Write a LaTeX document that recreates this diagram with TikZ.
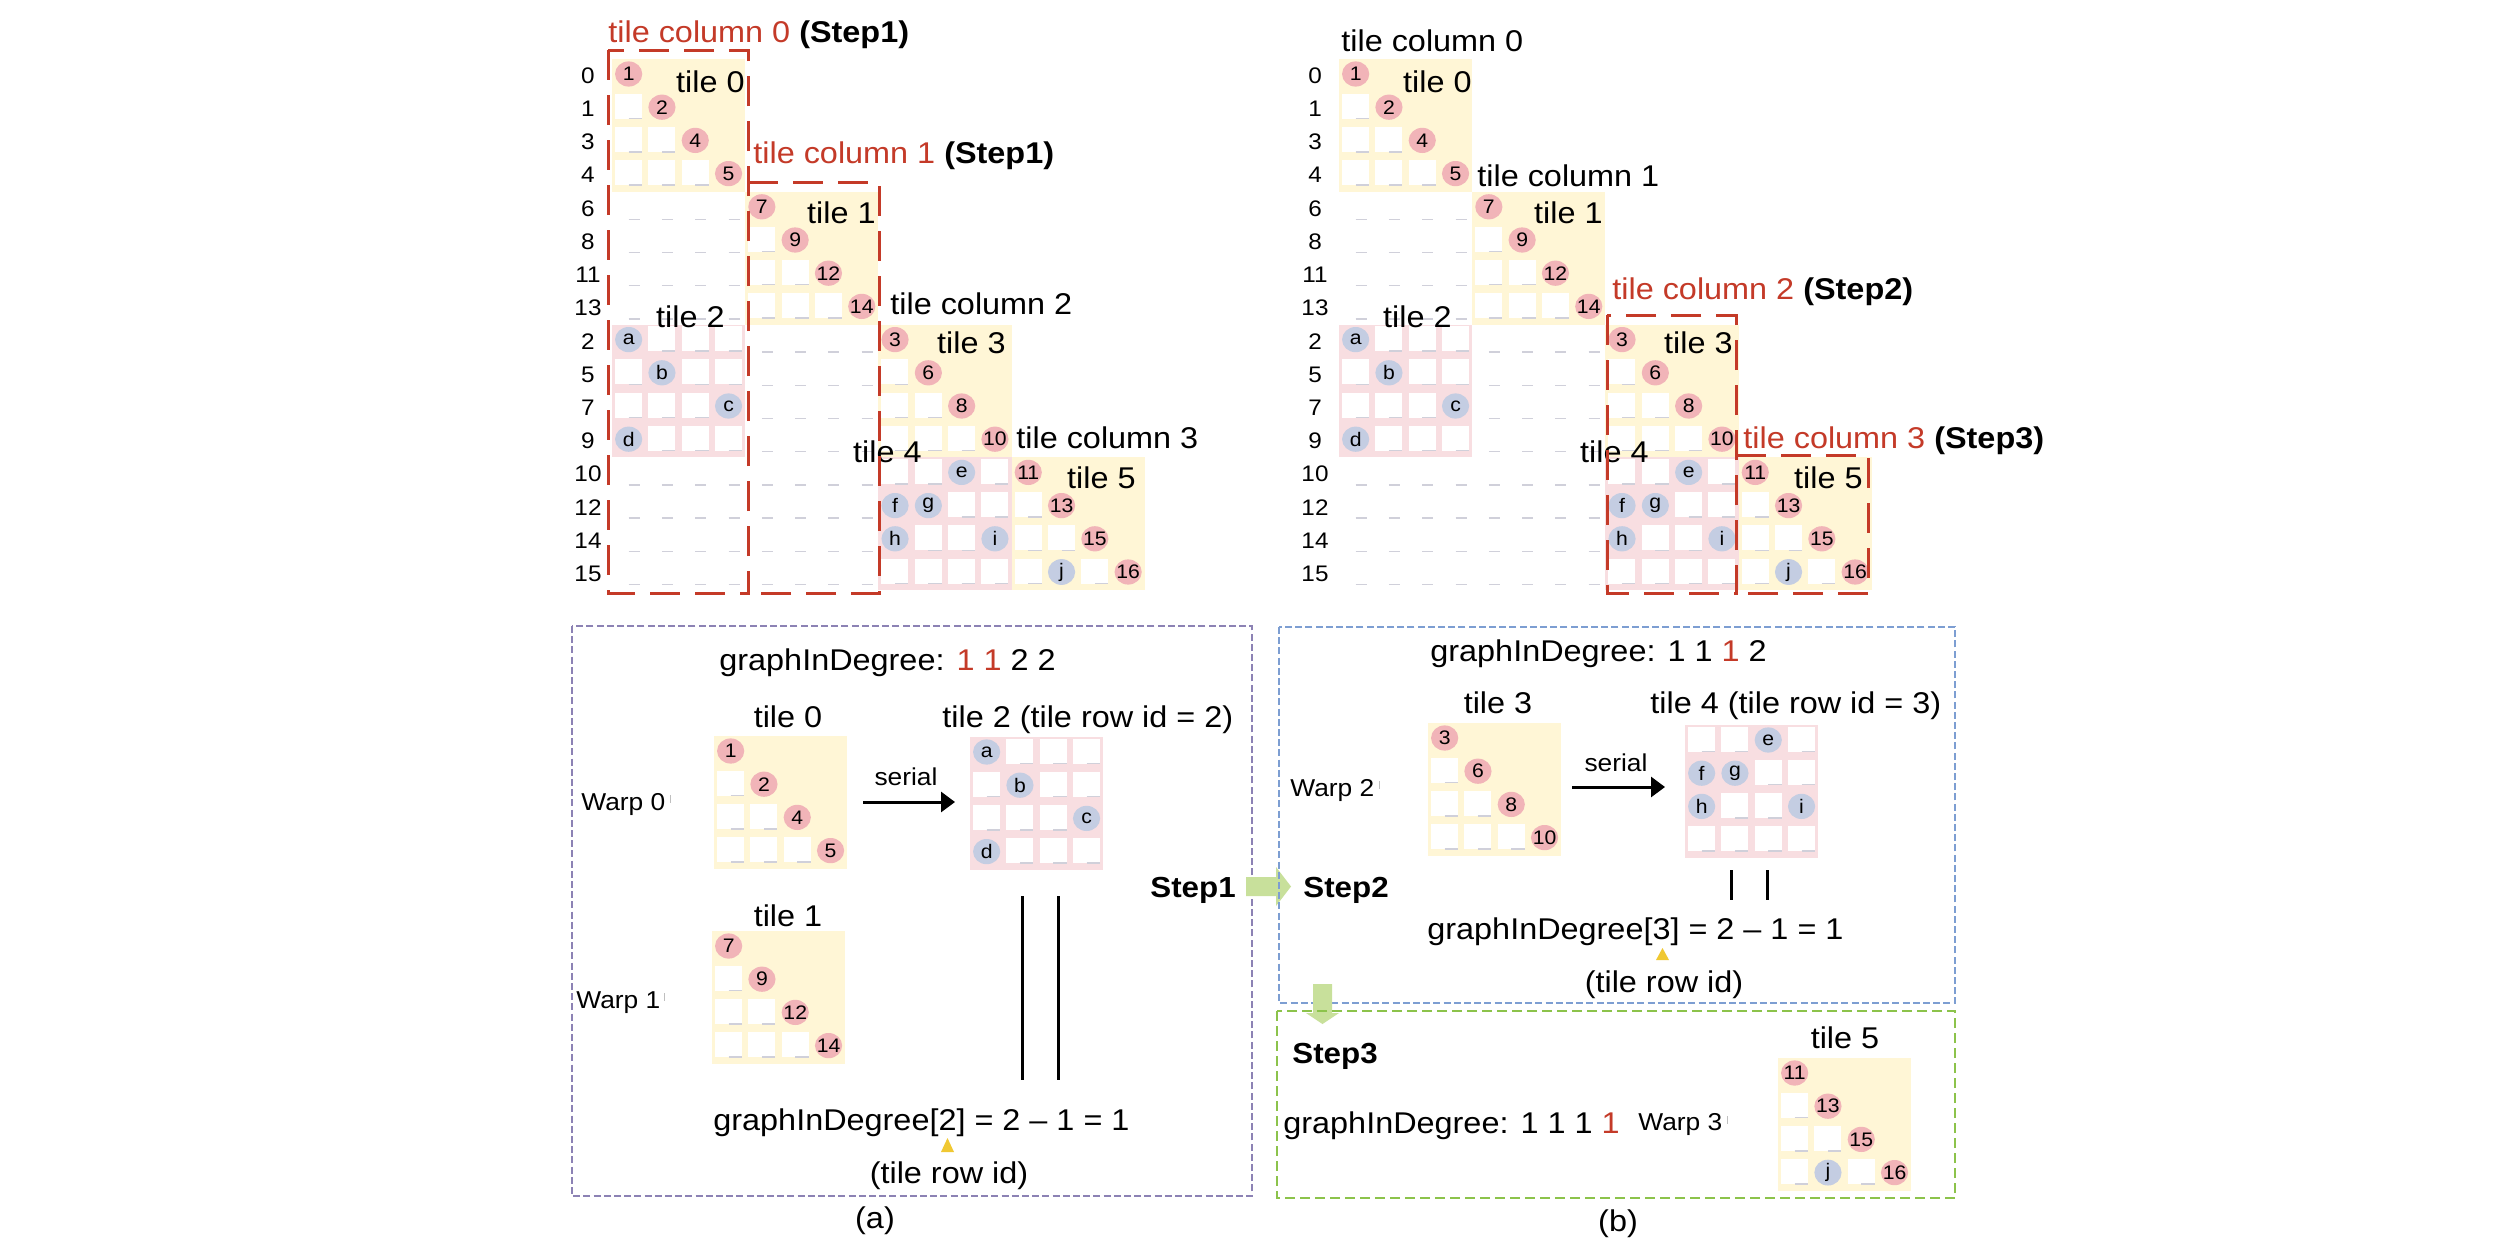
\documentclass[tikz,border=0pt]{standalone}
\usepackage{fontspec}
\setmainfont{Liberation Sans}[FakeStretch=1.08]
\usetikzlibrary{arrows.meta,shapes.geometric}
\definecolor{redc}{RGB}{196,58,40}
\definecolor{ybg}{RGB}{255,246,214}
\definecolor{pbg}{RGB}{248,222,225}
\definecolor{pcol}{RGB}{241,180,184}
\definecolor{bcol}{RGB}{196,205,226}
\definecolor{dgray}{RGB}{208,208,218}
\definecolor{boxa}{RGB}{140,130,180}
\definecolor{boxb}{RGB}{125,158,210}
\definecolor{boxc}{RGB}{140,195,75}
\definecolor{garr}{RGB}{200,224,155}
\definecolor{triy}{RGB}{240,200,50}
\newcommand\fmain{\fontsize{15pt}{18pt}\selectfont}
\newcommand\frow{\fontsize{11.25pt}{13pt}\selectfont}
\newcommand\fnum{\fontsize{9.8pt}{11pt}\selectfont}
\newcommand\fsm{\fontsize{12.2pt}{14pt}\selectfont}
\newcommand\fstep{\fontsize{14.5pt}{17pt}\selectfont\bfseries}
\tikzset{
  pc/.style={ellipse,fill=pcol,minimum width=13.6pt,minimum height=12.6pt,inner sep=0pt,font=\fnum},
  bcc/.style={ellipse,fill=bcol,minimum width=13.6pt,minimum height=12.6pt,inner sep=0pt,font=\fnum},
  cdash/.style={draw=dgray,line width=0.7pt},
  redbox/.style={draw=redc,line width=1.5pt,dash pattern=on 15pt off 7.5pt},
  boxA/.style={draw=boxa,line width=1.2pt,dash pattern=on 3.5pt off 1.6pt},
  boxB/.style={draw=boxb,line width=1.2pt,dash pattern=on 3.5pt off 1.6pt},
  boxC/.style={draw=boxc,line width=1.4pt,dash pattern=on 5pt off 2.5pt},
  lbl/.style={inner sep=0pt,font=\fmain},
  serarrow/.style={line width=1.5pt,-{Triangle[length=7pt,width=10pt]}},
  vbar/.style={line width=1.5pt},
  tick/.style={draw=black!25,line width=0.5pt},
}
\newcommand\whiteCells[1]{%
  \foreach \ri/\ci in {#1}{%
    \fill[white] (33.3*\ci+3,33.2*\ri+1.5) rectangle (33.3*\ci+30,33.2*\ri+26.5);
    \draw[cdash] (33.3*\ci+16.6,33.2*\ri+26.5) -- (33.3*\ci+30,33.2*\ri+26.5);
  }}
\newcommand\tileY[5]{%
  \begin{scope}[shift={(#2,#3)}]
    \fill[ybg] (0,0) rectangle (133.2,132.8);
    \whiteCells{#4}
    \foreach \ri/\ci/\lab in {#5}{\node[pc] (#1n\lab) at (33.3*\ci+16.65,33.2*\ri+15) {\makebox[0pt]{\lab}};}
  \end{scope}}
\newcommand\tileP[5]{%
  \begin{scope}[shift={(#2,#3)}]
    \fill[pbg] (0,0) rectangle (133.2,132.8);
    \whiteCells{#4}
    \foreach \ri/\ci/\lab in {#5}{\node[bcc] (#1n\lab) at (33.3*\ci+16.65,33.2*\ri+15) {\makebox[0pt]{\lab}};}
  \end{scope}}
\newcommand\MatBody{%
  \foreach \lab [count=\k from 0] in {0,1,3,4,6,8,11,13,2,5,7,9,10,12,14,15}{%
    \node[font=\frow,inner sep=0pt] (row\k) at (588,59+33.2*\k+16.6) {\lab};}
  \foreach \R in {4,5,6,7,12,13,14,15}{\foreach \C in {0,1,2,3}{%
    \draw[cdash] (612+33.3*\C+16.6,59+33.2*\R+27.5) -- ++(11,0);}}
  \foreach \R in {8,...,15}{\foreach \C in {4,5,6,7}{%
    \draw[cdash] (612+33.3*\C+16.6,59+33.2*\R+27.5) -- ++(11,0);}}
  \tileY{T0}{612}{59}{1/0,2/0,2/1,3/0,3/1,3/2}{0/0/1,1/1/2,2/2/4,3/3/5}
  \tileY{T1}{745.2}{191.8}{1/0,2/0,2/1,3/0,3/1,3/2}{0/0/7,1/1/9,2/2/12,3/3/14}
  \tileP{T2}{612}{324.6}{0/1,0/2,0/3,1/0,1/2,1/3,2/0,2/1,2/2,3/1,3/2,3/3}{0/0/a,1/1/b,2/3/c,3/0/d}
  \tileY{T3}{878.4}{324.6}{1/0,2/0,2/1,3/0,3/1,3/2}{0/0/3,1/1/6,2/2/8,3/3/10}
  \tileP{T4}{878.4}{457.4}{0/0,0/1,0/3,1/2,1/3,2/1,2/2,3/0,3/1,3/2,3/3}{0/2/e,1/0/f,1/1/g,2/0/h,2/3/i}
  \tileY{T5}{1011.6}{457.4}{1/0,2/0,2/1,3/0,3/2}{0/0/11,1/1/13,2/2/15,3/3/16}
  \node[bcc] (T5nj) at (1011.6+33.3+16.65,457.4+99.6+15) {\makebox[0pt]{j}};
  \node[lbl,anchor=base east] (lt0) at (745,92.5) {tile 0};
  \node[lbl,anchor=base east] (lt1) at (876,223.5) {tile 1};
  \node[lbl,anchor=base east] (lt2) at (725,327.5) {tile 2};
  \node[lbl,anchor=base east] (lt3) at (1006,353.5) {tile 3};
  \node[lbl,anchor=base east] (lt4) at (922,462.5) {tile 4};
  \node[lbl,anchor=base east] (lt5) at (1136,488.5) {tile 5};
}
\begin{document}
\begin{tikzpicture}[x=0.5pt,y=-0.5pt]
\fill[white] (0,0) rectangle (2518,1258);
\useasboundingbox (0,0) rectangle (2518,1258);

% ---------- top matrices ----------
\begin{scope}[name prefix=A-]
  \MatBody
\end{scope}
\begin{scope}[xshift=363.5pt,name prefix=B-]
  \MatBody
\end{scope}

% (a) red boxes and column labels
\draw[redbox] (608,50) rectangle (748,593);
\draw[redbox] (748,182) -- (879,182) -- (879,593) -- (748,593);
\node[lbl,anchor=base west] (ac0) at (608,42) {\textcolor{redc}{tile column 0} \textbf{(Step1)}};
\node[lbl,anchor=base west] (ac1) at (753,163) {\textcolor{redc}{tile column 1} \textbf{(Step1)}};
\node[lbl,anchor=base west] (ac2) at (890,314) {tile column 2};
\node[lbl,anchor=base west] (ac3) at (1016,448) {tile column 3};

% (b) red boxes and column labels
\draw[redbox] (1607,315) rectangle (1736,593);
\draw[redbox] (1736,455) -- (1868,455) -- (1868,593) -- (1736,593);
\node[lbl,anchor=base west] (bc0) at (1341,51) {tile column 0};
\node[lbl,anchor=base west] (bc1) at (1477,186) {tile column 1};
\node[lbl,anchor=base west] (bc2) at (1612,299) {\textcolor{redc}{tile column 2} \textbf{(Step2)}};
\node[lbl,anchor=base west] (bc3) at (1743,448) {\textcolor{redc}{tile column 3} \textbf{(Step3)}};

% ---------- bottom (a) ----------
\draw[boxA] (572,626) rectangle (1252,1196);
\node[lbl,anchor=base west] (ga) at (719,670) {graphInDegree: \textcolor{redc}{1 1} 2 2};
\node[lbl,anchor=base] (qa0) at (788,727) {tile 0};
\node[lbl,anchor=base west] (qa2) at (942,727) {tile 2 (tile row id = 2)};
\begin{scope}[name prefix=QA-]
  \tileY{T0}{714}{736}{1/0,2/0,2/1,3/0,3/1,3/2}{0/0/1,1/1/2,2/2/4,3/3/5}
  \tileP{T2}{970}{737}{0/1,0/2,0/3,1/0,1/2,1/3,2/0,2/1,2/2,3/1,3/2,3/3}{0/0/a,1/1/b,2/3/c,3/0/d}
  \tileY{T1}{712}{931}{1/0,2/0,2/1,3/0,3/1,3/2}{0/0/7,1/1/9,2/2/12,3/3/14}
\end{scope}
\node[inner sep=0pt,font=\fsm,anchor=base] (sera) at (906,785) {serial};
\coordinate (sa1) at (863,802);
\coordinate (sa2) at (955,802);
\draw[serarrow] (sa1) -- (sa2);
\node[inner sep=0pt,font=\fsm,anchor=base west] (wa0) at (581,810) {Warp 0};
\draw[tick] (670,795) -- (670,803);
\node[lbl,anchor=base] (qa1) at (788,926) {tile 1};
\node[inner sep=0pt,font=\fsm,anchor=base west] (wa1) at (576,1008) {Warp 1};
\draw[tick] (664,993) -- (664,1001);
\coordinate (va1) at (1022,896); \coordinate (va2) at (1022,1080);
\coordinate (va3) at (1058,896); \coordinate (va4) at (1058,1080);
\draw[vbar] (va1) -- (va2);
\draw[vbar] (va3) -- (va4);
\node[lbl,anchor=base west] (gia) at (713,1130) {graphInDegree[2] = 2 – 1 = 1};
\fill[triy] (941,1152) -- (954,1152) -- (947.5,1138) -- cycle;
\node[lbl,anchor=base] (tra) at (949,1183) {(tile row id)};
\node[inner sep=0pt,font=\fstep,anchor=base west] (st1) at (1150,897) {Step1};
\node[lbl,anchor=base] (capa) at (875,1228) {(a)};

% green arrow Step1 -> Step2
\fill[garr] (1246,877) -- (1276,877) -- (1276,867) -- (1291,886.5) -- (1276,906) -- (1276,896) -- (1246,896) -- cycle;

% ---------- bottom (b) ----------
\draw[boxB] (1279,627) rectangle (1955,1003);
\node[lbl,anchor=base west] (gb) at (1430,661) {graphInDegree: 1 1 \textcolor{redc}{1} 2};
\node[lbl,anchor=base] (qb3) at (1498,713) {tile 3};
\node[lbl,anchor=base west] (qb4) at (1650,713) {tile 4 (tile row id = 3)};
\begin{scope}[name prefix=QB-]
  \tileY{T3}{1428}{723}{1/0,2/0,2/1,3/0,3/1,3/2}{0/0/3,1/1/6,2/2/8,3/3/10}
  \tileP{T4}{1685}{725}{0/0,0/1,0/3,1/2,1/3,2/1,2/2,3/0,3/1,3/2,3/3}{0/2/e,1/0/f,1/1/g,2/0/h,2/3/i}
\end{scope}
\node[inner sep=0pt,font=\fsm,anchor=base west] (wb2) at (1290,796) {Warp 2};
\draw[tick] (1379,781) -- (1379,789);
\node[inner sep=0pt,font=\fsm,anchor=base] (serb) at (1616,771) {serial};
\coordinate (sb1) at (1572,787);
\coordinate (sb2) at (1665,787);
\draw[serarrow] (sb1) -- (sb2);
\coordinate (vb1) at (1731,870); \coordinate (vb2) at (1731,900);
\coordinate (vb3) at (1767,870); \coordinate (vb4) at (1767,900);
\draw[vbar] (vb1) -- (vb2);
\draw[vbar] (vb3) -- (vb4);
\node[inner sep=0pt,font=\fstep,anchor=base west] (st2) at (1303,897) {Step2};
\node[lbl,anchor=base west] (gib) at (1427,939) {graphInDegree[3] = 2 – 1 = 1};
\fill[triy] (1656,960) -- (1669,960) -- (1662.5,948) -- cycle;
\node[lbl,anchor=base] (trb) at (1664,992) {(tile row id)};

% green down arrow
\fill[garr] (1313,984) -- (1332,984) -- (1332,1013) -- (1339,1013) -- (1322.5,1024) -- (1306,1013) -- (1313,1013) -- cycle;

\draw[boxC] (1277,1011) rectangle (1955,1198);
\node[inner sep=0pt,font=\fstep,anchor=base west] (st3) at (1292,1063) {Step3};
\node[lbl,anchor=base west] (gc) at (1283,1133) {graphInDegree: 1 1 1 \textcolor{redc}{1}};
\node[inner sep=0pt,font=\fsm,anchor=base west] (wb3) at (1638,1130) {Warp 3};
\draw[tick] (1727,1116) -- (1727,1124);
\node[lbl,anchor=base] (qb5) at (1845,1048) {tile 5};
\begin{scope}[name prefix=QC-]
  \tileY{T5}{1778}{1058}{1/0,2/0,2/1,3/0,3/2}{0/0/11,1/1/13,2/2/15,3/3/16}
  \node[bcc] (T5nj) at (1778+33.3+16.65,1058+99.6+15) {\makebox[0pt]{j}};
\end{scope}
\node[lbl,anchor=base] (capb) at (1618,1231) {(b)};
\end{tikzpicture}
\end{document}
